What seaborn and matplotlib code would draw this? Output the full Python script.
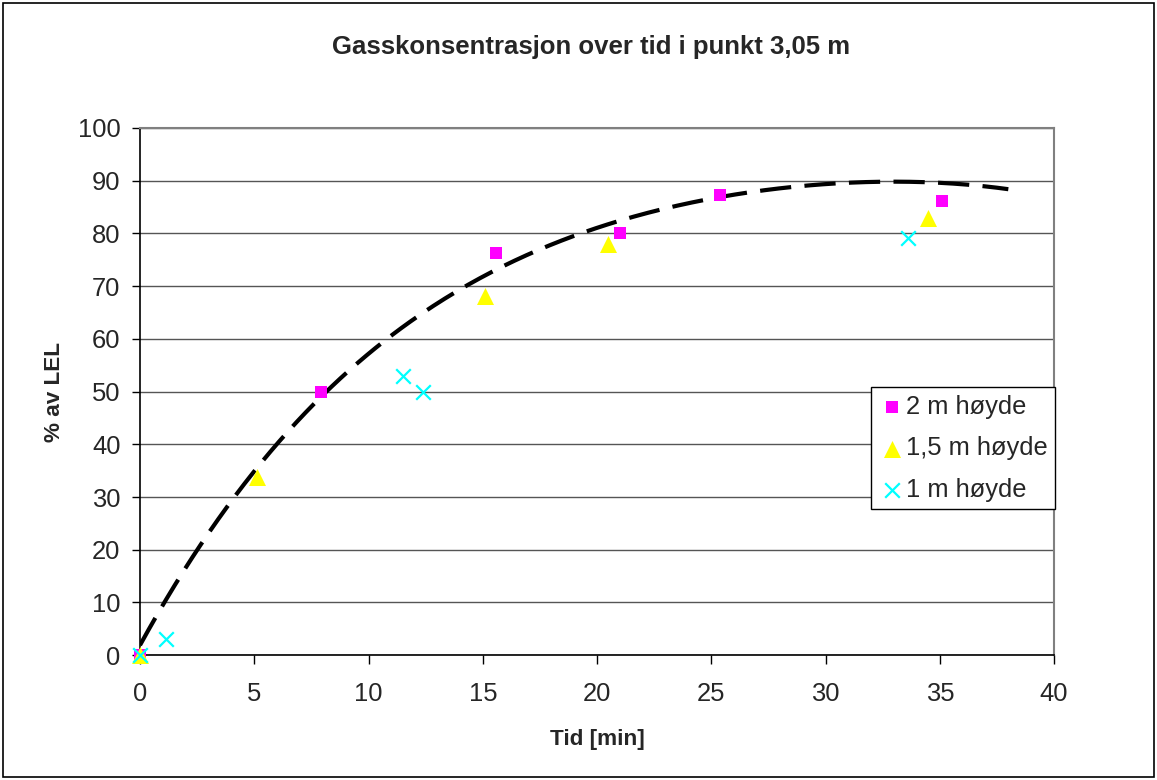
import numpy as np
import pandas as pd
import matplotlib
matplotlib.use("Agg")
import matplotlib.pyplot as plt
import seaborn as sns

# Data
x_2m = [0, 7.9, 15.6, 21.0, 25.4, 35.1]
y_2m = [0, 50, 76.3, 80, 87.3, 86.1]
x_15m = [0, 5.1, 15.1, 20.5, 34.5]
y_15m = [0, 33.8, 68.1, 78, 82.9]
x_1m = [0, 1.15, 11.5, 12.4, 33.6]
y_1m = [0, 3.0, 52.9, 49.9, 79.1]
labels = ["2 m høyde", "1,5 m høyde", "1 m høyde"]

# Polynomial trendline (coefficients, highest order first)
trend_coef = [-4.583e-5, 0.005386, -0.28647, 7.899, 1.9]
trend_range = [0, 38]

sns.set_theme(style="white")
plt.rcParams['font.family'] = ['Liberation Sans', 'DejaVu Sans']

df = pd.concat([
    pd.DataFrame({"t": x_2m, "v": y_2m, "serie": labels[0]}),
    pd.DataFrame({"t": x_15m, "v": y_15m, "serie": labels[1]}),
    pd.DataFrame({"t": x_1m, "v": y_1m, "serie": labels[2]}),
])

fig = plt.figure(figsize=(11.57, 7.8), dpi=100)
ax = fig.add_axes([0.121, 0.160, 0.790, 0.676])

tt = np.linspace(trend_range[0], trend_range[1], 300)
trend = pd.DataFrame({"t": tt, "v": np.polyval(trend_coef, tt)})
sns.lineplot(data=trend, x="t", y="v", ax=ax, color="black", lw=3.0, zorder=2)
ax.lines[-1].set_dashes([7.5, 3.2])

palette = {labels[0]: "#FF00FF", labels[1]: "#FFFF00", labels[2]: "#00FFFF"}
markers = {labels[0]: "s", labels[1]: "^", labels[2]: "x"}
sizes = {labels[0]: 65, labels[1]: 150, labels[2]: 110}
for lab in labels:
    sub = df[df["serie"] == lab]
    lw = 0 if lab != labels[2] else 1.6
    sns.scatterplot(data=sub, x="t", y="v", color=palette[lab], marker=markers[lab],
                    s=sizes[lab], linewidth=lw, ax=ax, label=lab, zorder=3)

ax.set_xlim(0, 40)
ax.set_ylim(0, 100)
ax.set_xticks(range(0, 41, 5))
ax.set_yticks(range(0, 101, 10))
ax.tick_params(axis="x", labelsize=18.4, direction="out", length=6.5, width=1,
               color="black", bottom=True, pad=13)
ax.tick_params(axis="y", labelsize=18.4, direction="out", length=6, width=1,
               color="black", left=True, pad=8)
ax.yaxis.grid(True, color="#555555", lw=1)
ax.xaxis.grid(False)
for s in ["top", "right"]:
    ax.spines[s].set_color("#808080")
    ax.spines[s].set_linewidth(1.5)
for s in ["left", "bottom"]:
    ax.spines[s].set_color("black")
    ax.spines[s].set_linewidth(1.2)
for c in ax.collections:
    c.set_clip_on(False)

ax.set_xlabel("Tid [min]", fontsize=16.2, fontweight="bold", labelpad=16)
ax.set_ylabel("% av LEL", fontsize=16.2, fontweight="bold", labelpad=9)
fig.text(0.511, 0.940, "Gasskonsentrasjon over tid i punkt 3,05 m", ha="center", va="center",
         fontsize=18.5, fontweight="bold")

handles, labs = ax.get_legend_handles_labels()
leg = ax.legend(handles[-3:], labs[-3:], loc="upper left", bbox_to_anchor=(0.800, 0.508),
                fontsize=18.4, frameon=True, fancybox=False, edgecolor="black", framealpha=1,
                handletextpad=0.05, borderpad=0.3, labelspacing=0.68, handlelength=1.0,
                borderaxespad=0)
leg.get_frame().set_linewidth(1)

border = plt.Rectangle((0.003, 0.004), 0.994, 0.992, transform=fig.transFigure,
                       fill=False, edgecolor="black", lw=1.2)
fig.patches.append(border)

fig.savefig("out.png", dpi=100)
